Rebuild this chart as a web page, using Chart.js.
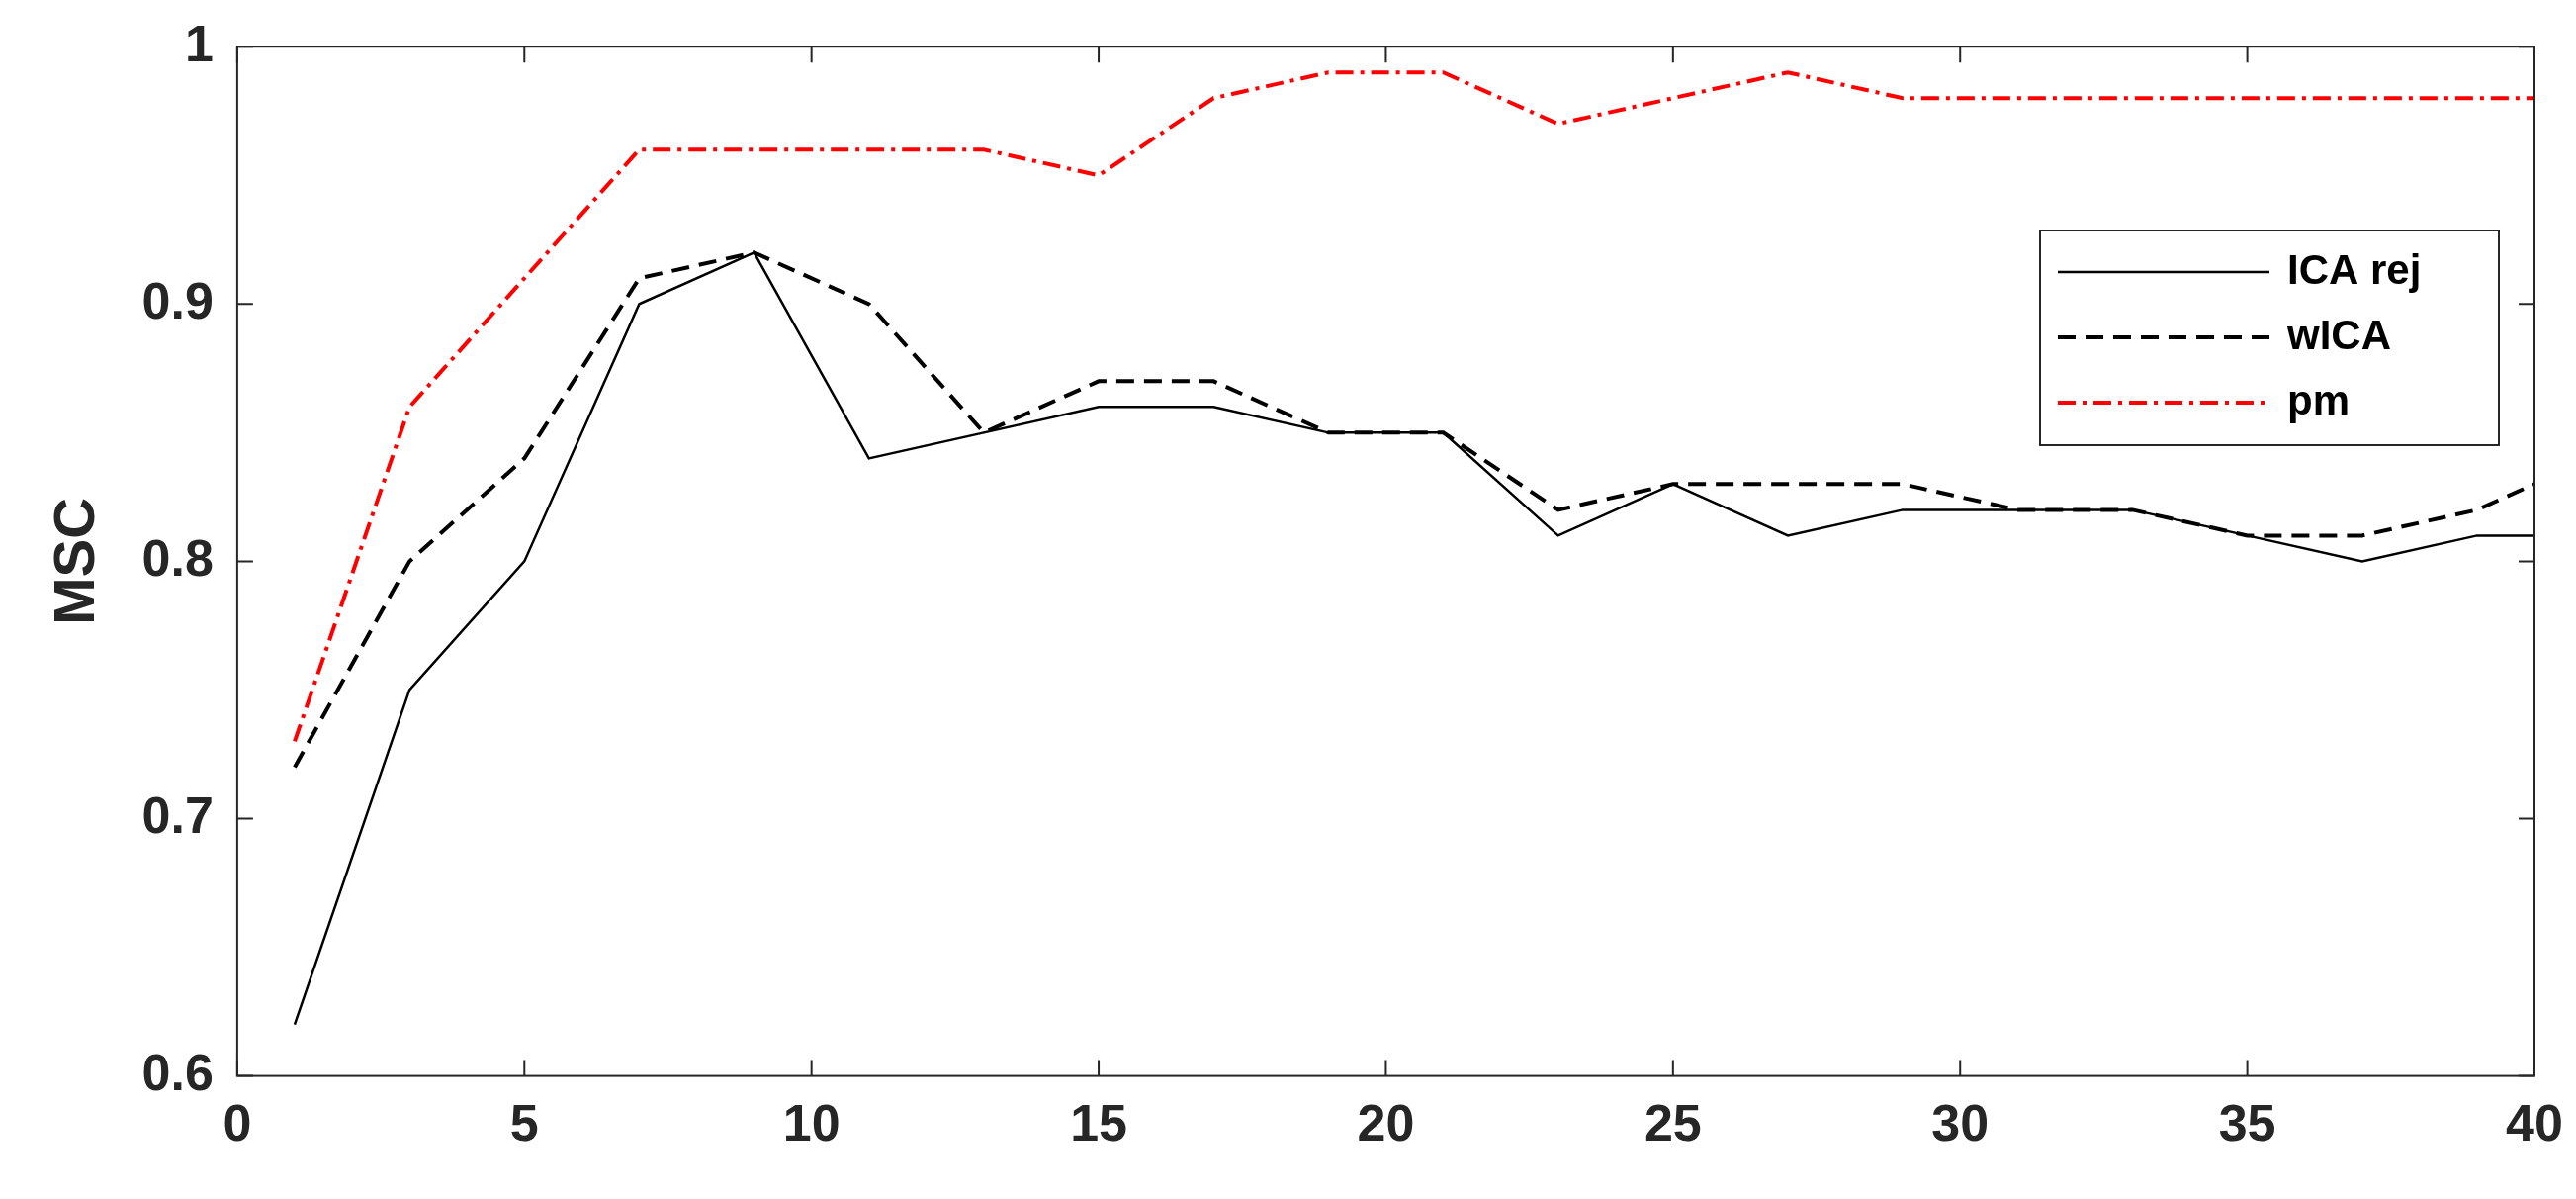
<!DOCTYPE html>
<html>
<head>
<meta charset="utf-8">
<script src="https://cdn.jsdelivr.net/npm/chart.js@4.4.1/dist/chart.umd.min.js"></script>
<style>
  body { margin: 0; background: #fff; }
  canvas { display: block; }
</style>
</head>
<body>
<canvas id="msc" width="2605" height="1212"></canvas>
<script>
// x positions (window counts) and MSC values
const xs = [1, 3, 5, 7, 9, 11, 13, 15, 17, 19, 21, 23, 25, 27, 29, 31, 33, 35, 37, 39, 40];
const icaRej = [0.62, 0.75, 0.80, 0.90, 0.92, 0.84, 0.85, 0.86, 0.86, 0.85, 0.85, 0.81, 0.83, 0.81, 0.82, 0.82, 0.82, 0.81, 0.80, 0.81, 0.81];
const wICA = [0.72, 0.80, 0.84, 0.91, 0.92, 0.90, 0.85, 0.87, 0.87, 0.85, 0.85, 0.82, 0.83, 0.83, 0.83, 0.82, 0.82, 0.81, 0.81, 0.82, 0.83];
const pm = [0.73, 0.86, 0.91, 0.96, 0.96, 0.96, 0.96, 0.95, 0.98, 0.99, 0.99, 0.97, 0.98, 0.99, 0.98, 0.98, 0.98, 0.98, 0.98, 0.98, 0.98];
const seriesNames = ["ICA rej", "wICA", "pm"];

const pts = vals => vals.map((v, i) => ({ x: xs[i], y: v }));
const FONT = "'Liberation Sans', Arial, sans-serif";

// box around plot with inward ticks on all sides, plus the legend box
const boxPlugin = {
    id: "box",
    afterDatasetsDraw(chart) {
        const { ctx, chartArea: a, scales } = chart;
        ctx.save();
        ctx.strokeStyle = "#262626";
        ctx.lineWidth = 2;
        ctx.strokeRect(a.left, a.top, a.right - a.left, a.bottom - a.top);
        const t = 16;
        scales.x.ticks.forEach(tk => {
            const p = scales.x.getPixelForValue(tk.value);
            ctx.beginPath();
            ctx.moveTo(p, a.bottom); ctx.lineTo(p, a.bottom - t);
            ctx.moveTo(p, a.top); ctx.lineTo(p, a.top + t);
            ctx.stroke();
        });
        scales.y.ticks.forEach(tk => {
            const p = scales.y.getPixelForValue(tk.value);
            ctx.beginPath();
            ctx.moveTo(a.left, p); ctx.lineTo(a.left + t, p);
            ctx.moveTo(a.right, p); ctx.lineTo(a.right - t, p);
            ctx.stroke();
        });

        // legend
        const lx = 2063, ly = 233, lw = 464, lh = 217;
        ctx.fillStyle = "#fff";
        ctx.fillRect(lx, ly, lw, lh);
        ctx.strokeRect(lx, ly, lw, lh);
        ctx.font = "bold 42px " + FONT;
        ctx.textBaseline = "middle";
        chart.data.datasets.forEach((ds, i) => {
            const y = ly + 42 + i * 66;
            ctx.strokeStyle = ds.borderColor;
            ctx.lineWidth = ds.borderWidth;
            ctx.setLineDash(ds.borderDash || []);
            ctx.beginPath();
            ctx.moveTo(lx + 18, y); ctx.lineTo(lx + 232, y);
            ctx.stroke();
            ctx.setLineDash([]);
            ctx.fillStyle = "#000";
            ctx.fillText(ds.label, lx + 250, y);
        });
        ctx.restore();
    }
};

new Chart(document.getElementById("msc"), {
    type: "line",
    data: {
        datasets: [
            { label: seriesNames[0], data: pts(icaRej), borderColor: "#000", borderWidth: 2.5 },
            { label: seriesNames[1], data: pts(wICA), borderColor: "#000", borderWidth: 4, borderDash: [18, 10] },
            { label: seriesNames[2], data: pts(pm), borderColor: "#ff0000", borderWidth: 4, borderDash: [18, 7, 4, 7] }
        ]
    },
    options: {
        responsive: false,
        animation: false,
        devicePixelRatio: 1,
        layout: { padding: { left: 30, right: 42, top: 30, bottom: 30 } },
        elements: { point: { radius: 0 }, line: { tension: 0 } },
        plugins: { legend: { display: false }, tooltip: { enabled: false } },
        scales: {
            x: {
                type: "linear", min: 0, max: 40,
                ticks: { stepSize: 5, color: "#262626", font: { family: FONT, size: 52, weight: "bold" }, padding: 12 },
                grid: { display: false },
                border: { display: false }
            },
            y: {
                min: 0.6, max: 1,
                ticks: {
                    stepSize: 0.1, color: "#262626", padding: 16,
                    font: { family: FONT, size: 52, weight: "bold" },
                    callback: v => (Math.round(v * 10) / 10).toString()
                },
                title: { display: true, text: "MSC", color: "#262626", font: { family: FONT, size: 58, weight: "bold" }, padding: 14 },
                grid: { display: false },
                border: { display: false }
            }
        }
    },
    plugins: [boxPlugin]
});
</script>
</body>
</html>
